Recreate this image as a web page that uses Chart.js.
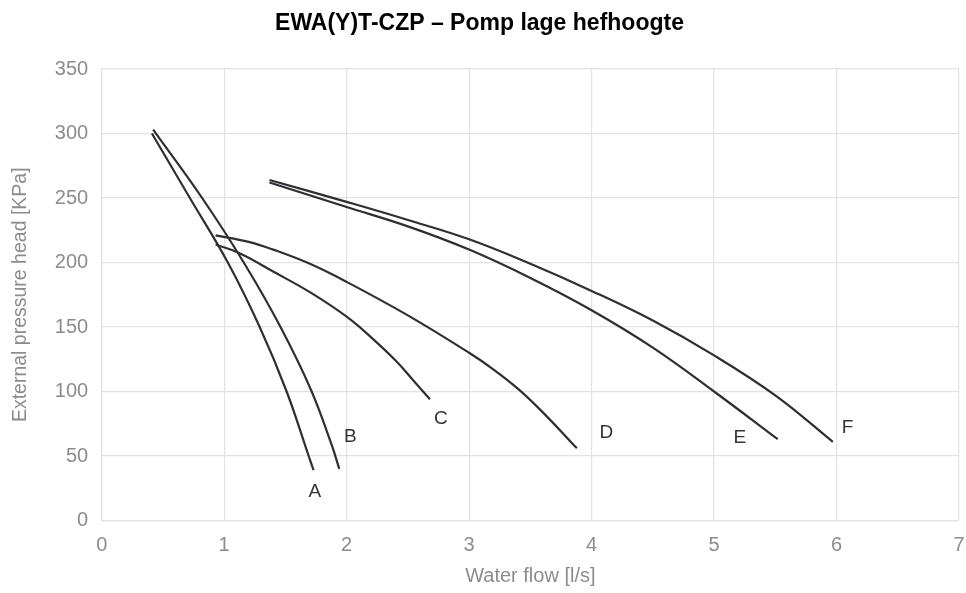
<!DOCTYPE html>
<html>
<head>
<meta charset="utf-8">
<script src="https://cdn.jsdelivr.net/npm/chart.js@4/dist/chart.umd.min.js"></script>
<style>
  html, body { margin: 0; padding: 0; background: #ffffff; }
  #wrap { width: 966px; height: 593px; }
</style>
</head>
<body>
<div id="wrap"><canvas id="c" width="966" height="593"></canvas></div>
<script>
// Curve data (x = water flow l/s, y = head KPa)
const curveNames = ["A", "B", "C", "D", "E", "F"];
const flowA = [0.41, 0.72, 1.03, 1.29, 1.51, 1.69, 1.73];
const headA = [300, 250, 200, 150, 100, 50, 39];
const flowB = [0.42, 0.82, 1.16, 1.46, 1.71, 1.88, 1.94];
const headB = [303, 250, 200, 150, 101, 58, 40];
const flowC = [0.93, 1.13, 1.40, 1.70, 2.00, 2.20, 2.40, 2.55, 2.68];
const headC = [214, 207, 193, 177, 158, 142, 124, 108, 94];
const flowD = [0.93, 1.20, 1.40, 1.70, 2.00, 2.50, 3.00, 3.20, 3.40, 3.60, 3.88];
const headD = [221, 216, 210, 199, 185, 159, 130, 117, 102, 84, 56];
const flowE = [1.37, 2.00, 2.50, 3.00, 3.50, 4.00, 4.50, 5.00, 5.52];
const headE = [262, 243, 228, 210, 188, 163, 134, 100, 63];
const flowF = [1.37, 2.00, 2.50, 3.00, 3.50, 4.00, 4.50, 5.00, 5.50, 5.97];
const headF = [264, 247, 233, 218, 199, 178, 155, 128, 97, 61];

// Curve label anchor positions (data units)
const labelFlow = [1.74, 2.03, 2.77, 4.12, 5.21, 6.09];
const labelHead = [22, 65, 79, 68, 64, 72];

const xTicks = [0, 1, 2, 3, 4, 5, 6, 7];
const yTicks = [0, 50, 100, 150, 200, 250, 300, 350];

const flows = [flowA, flowB, flowC, flowD, flowE, flowF];
const heads = [headA, headB, headC, headD, headE, headF];

const datasets = curveNames.map((n, i) => ({
  label: n,
  data: flows[i].map((x, j) => ({ x: x, y: heads[i][j] })),
  borderColor: '#2e2f33',
  borderWidth: 2.2,
  pointRadius: 0,
  fill: false,
  tension: 0.4
}));

const curveLabels = {
  id: 'curveLabels',
  afterDatasetsDraw(chart) {
    const { ctx, scales } = chart;
    ctx.save();
    ctx.font = '19px "Liberation Sans", Arial, sans-serif';
    ctx.fillStyle = '#333333';
    ctx.textAlign = 'center';
    ctx.textBaseline = 'middle';
    curveNames.forEach((n, i) => {
      ctx.fillText(n, scales.x.getPixelForValue(labelFlow[i]), scales.y.getPixelForValue(labelHead[i]));
    });
    ctx.restore();
  }
};

const tickFont = { family: '"Liberation Sans", Arial, sans-serif', size: 20, lineHeight: 1.2 };
const grey = '#8c8c8c';

new Chart(document.getElementById('c'), {
  type: 'line',
  data: { datasets },
  plugins: [curveLabels],
  options: {
    responsive: false,
    animation: false,
    layout: { padding: { left: 0, right: 7, top: 0, bottom: 0 } },
    plugins: {
      legend: { display: false },
      tooltip: { enabled: false },
      title: {
        display: true,
        text: 'EWA(Y)T-CZP – Pomp lage hefhoogte',
        color: '#000000',
        font: { family: '"Liberation Sans", Arial, sans-serif', size: 23, weight: 'bold', lineHeight: 1.2 },
        padding: { top: 10, bottom: 31.4 }
      }
    },
    scales: {
      x: {
        type: 'linear',
        min: 0, max: 7,
        afterBuildTicks: (s) => { s.ticks = xTicks.map(v => ({ value: v })); },
        afterFit: (s) => { s.height = 72.5; s.paddingRight = 0; s.paddingLeft = 0; },
        grid: { color: '#e2e2e2', drawTicks: false, lineWidth: 1.2 },
        border: { color: '#e2e2e2', width: 1.2 },
        ticks: { color: grey, font: tickFont, padding: 12.5 },
        title: { display: true, text: 'Water flow [l/s]', color: grey, font: tickFont, padding: { top: 0, bottom: 5 } }
      },
      y: {
        type: 'linear',
        min: 0, max: 350,
        afterBuildTicks: (s) => { s.ticks = yTicks.map(v => ({ value: v })); },
        afterFit: (s) => { s.width = 101.7; s.paddingTop = 0; s.paddingBottom = 0; },
        grid: { color: '#e2e2e2', drawTicks: false, lineWidth: 1.2 },
        border: { color: '#e2e2e2', width: 1.2 },
        ticks: { color: grey, font: tickFont, padding: 13.5 },
        title: { display: true, text: 'External pressure head [KPa]', color: grey, font: { family: '"Liberation Sans", Arial, sans-serif', size: 19.5 }, padding: { top: 9, bottom: 0 } }
      }
    }
  }
});
</script>
</body>
</html>
